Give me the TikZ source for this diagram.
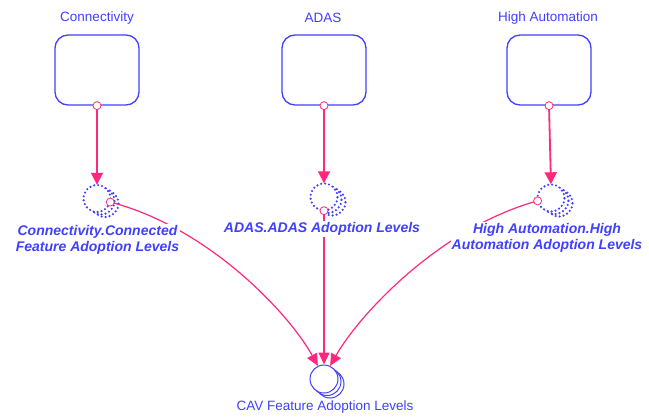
\documentclass[tikz,border=0pt]{standalone}
\usepackage{fontspec}
\setmainfont{Liberation Sans}
\usetikzlibrary{arrows.meta}
\definecolor{vblue}{RGB}{64,64,255}
\definecolor{vpink}{RGB}{255,40,125}
\begin{document}
\begin{tikzpicture}[x=1pt,y=-1pt,
  stock/.style={draw=vblue, line width=1.3pt, rounded corners=13pt, minimum width=84pt, minimum height=70pt, inner sep=0pt},
  toplabel/.style={text=vblue, font=\fontsize{13.5}{15.5}\selectfont},
  varlabel/.style={text=vblue, fill=white, inner sep=1pt, font=\fontsize{14}{16}\selectfont\bfseries\itshape, align=center},
  var/.style={circle, minimum size=27pt, inner sep=0pt},
  port/.style={circle, draw=vpink, fill=white, line width=0.8pt, minimum size=8pt, inner sep=0pt},
  link/.style={draw=vpink, line width=1.2pt, -{Triangle[length=12pt,width=11pt]}},
  boxlink/.style={draw=vpink, line width=1.8pt, -{Triangle[length=12pt,width=12pt]}},
  dots/.style={draw=vblue, line width=2.4pt, line cap=round, dash pattern=on 0pt off 4pt}]

\useasboundingbox (0,0) rectangle (649,416);

% stocks
\node[stock] (cbox) at (97,70) {};
\node[stock] (abox) at (324,70) {};
\node[stock] (hbox) at (549,70) {};
\node[toplabel] (ctl) at (97,18) {Connectivity};
\node[toplabel] (atl) at (323,18) {ADAS};
\node[toplabel] (htl) at (548,18) {High Automation};

% variables (dotted, with shadow crescent)
\foreach \cx/\cy in {97/198.5, 324/197, 551/198} {
  \draw[dots] (\cx+8,\cy+5) circle[radius=13.5pt];
  \fill[white] (\cx+4,\cy+2.5) circle[radius=13.5pt];
  \draw[dots] (\cx+4,\cy+2.5) circle[radius=13.5pt];
  \fill[white] (\cx,\cy) circle[radius=13.5pt];
  \draw[dots] (\cx,\cy) circle[radius=13.5pt];
}
\node[var] (cvar) at (97,198.5) {};
\node[var] (avar) at (324,197) {};
\node[var] (hvar) at (551,198) {};

% CAV output
\draw[vblue, line width=1pt] (330,384) circle[radius=14pt];
\fill[white] (327,381.5) circle[radius=14pt];
\draw[vblue, line width=1pt] (327,381.5) circle[radius=14pt];
\node[circle, draw=vblue, fill=white, line width=1pt, minimum size=28pt, inner sep=0pt] (cav) at (324,379) {};
\node[text=vblue, font=\fontsize{13.5}{15.5}\selectfont] (cavl) at (325,407) {CAV Feature Adoption Levels};

% ports
\node[port] (cbp) at (cbox.south) {};
\node[port] (abp) at (abox.south) {};
\node[port] (hbp) at (hbox.south) {};

% box -> variable
\draw[boxlink] (cbp) -- (cvar.north);
\draw[boxlink] (abp) -- (avar.north);
\draw[boxlink] (hbp) -- (hvar.north);

% variable -> CAV
\draw[link] (cvar.-15) .. controls (210,228) and (290,315) .. (cav.115);
\draw[link] (avar.south) -- (cav.north);
\draw[link] (hvar.192) .. controls (439,228) and (359,315) .. (cav.65);

% labels (drawn over the connectors)
\node[varlabel] (cvl) at (97.5,240) {Connectivity.Connected\\Feature Adoption Levels};
\node[varlabel] (avl) at (322,229) {ADAS.ADAS Adoption Levels};
\node[varlabel] (hvl) at (547,238) {High Automation.High\\Automation Adoption Levels};

\node[port] (cvp) at (cvar.-15) {};
\node[port] (avp) at (avar.south) {};
\node[port] (hvp) at (hvar.192) {};
\end{tikzpicture}
\end{document}
